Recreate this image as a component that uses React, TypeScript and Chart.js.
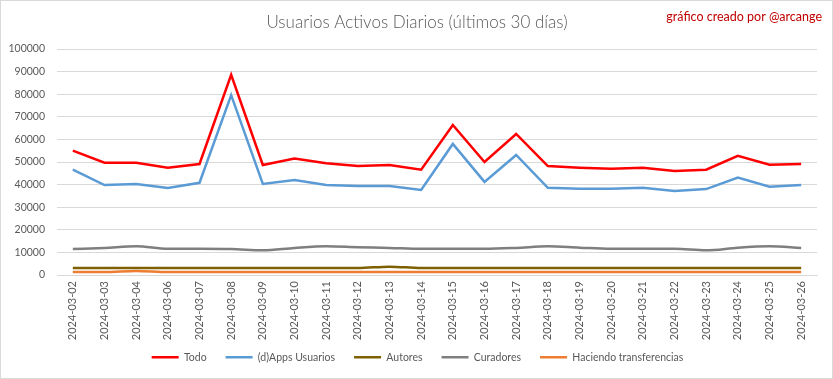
import React, { useEffect, useRef } from "react";
import { Chart, registerables } from "chart.js";

Chart.register(...registerables);

const dates = [
  "2024-03-02", "2024-03-03", "2024-03-04", "2024-03-06", "2024-03-07", "2024-03-08",
  "2024-03-09", "2024-03-10", "2024-03-11", "2024-03-12", "2024-03-13", "2024-03-14",
  "2024-03-15", "2024-03-16", "2024-03-17", "2024-03-18", "2024-03-19", "2024-03-20",
  "2024-03-21", "2024-03-22", "2024-03-23", "2024-03-24", "2024-03-25", "2024-03-26",
];

const todo = [
  55000, 49700, 49700, 47500, 49100, 88600, 48700, 51500, 49400, 48200, 48700, 46600,
  66400, 50000, 62400, 48200, 47500, 47000, 47500, 46000, 46600, 52700, 48800, 49100,
];

const appsUsuarios = [
  46600, 39800, 40300, 38500, 40800, 79600, 40300, 42000, 39800, 39400, 39400, 37600,
  58000, 41200, 53100, 38600, 38200, 38200, 38600, 37200, 38000, 43100, 39100, 39800,
];

const autores = [
  3100, 3100, 3100, 3100, 3100, 3100, 3100, 3100, 3100, 3100, 3700, 3100,
  3100, 3100, 3100, 3100, 3100, 3100, 3100, 3100, 3100, 3100, 3100, 3100,
];

const curadores = [
  11500, 12000, 12700, 11600, 11600, 11500, 10900, 12000, 12700, 12300, 12000, 11600,
  11600, 11600, 12000, 12700, 12100, 11600, 11600, 11600, 10900, 12100, 12700, 12000,
];

const transferencias = [
  1300, 1300, 1800, 1300, 1300, 1300, 1300, 1300, 1300, 1300, 1300, 1300,
  1300, 1300, 1300, 1300, 1300, 1300, 1300, 1300, 1300, 1300, 1300, 1300,
];

const seriesNames = ["Todo", "(d)Apps Usuarios", "Autores", "Curadores", "Haciendo transferencias"];
const seriesColors = ["#FF0000", "#5B9BD5", "#7F6000", "#7F7F7F", "#ED7D31"];

const titleText = "Usuarios Activos Diarios (últimos 30 días)";
const creditText = "gráfico creado por @arcange";

const FONT = "Lato, 'Open Sans', sans-serif";

const decorPlugin = {
  id: "decor",
  afterLayout(chart: any) {
    // let the rotated x labels extend below the axis box (avoid clipping)
    const x = chart.scales.x;
    if (x) x.bottom = chart.height;
    const lg = chart.legend;
    if (lg) {
      lg.left += 9;
      lg.right += 9;
    }
  },
  beforeDraw(chart: any) {
    const ctx = chart.ctx;
    ctx.save();
    ctx.fillStyle = "#FFFFFF";
    ctx.fillRect(0, 0, chart.width, chart.height);
    ctx.restore();
  },
  afterDraw(chart: any) {
    const ctx = chart.ctx;
    ctx.save();
    ctx.textBaseline = "middle";
    ctx.textAlign = "center";
    ctx.fillStyle = "#595959";
    ctx.font = `300 17px ${FONT}`;
    ctx.fillText(titleText, 417, 23);
    ctx.textAlign = "right";
    ctx.fillStyle = "#C00000";
    ctx.font = `12.5px ${FONT}`;
    ctx.fillText(creditText, 822, 17);
    ctx.strokeStyle = "#D9D9D9";
    ctx.lineWidth = 1;
    ctx.strokeRect(0.5, 0.5, chart.width - 1, chart.height - 1);
    ctx.restore();
  },
};

export default function App() {
  const ref = useRef<HTMLCanvasElement | null>(null);

  useEffect(() => {
    document.body.style.margin = "0";
    const seriesData = [todo, appsUsuarios, autores, curadores, transferencias];
    const tensions = [0, 0, 0.4, 0.4, 0.4];
    const chart = new Chart(ref.current as HTMLCanvasElement, {
      type: "line",
      data: {
        labels: dates,
        datasets: seriesNames.map((name, i) => ({
          label: name,
          data: seriesData[i],
          borderColor: seriesColors[i],
          backgroundColor: seriesColors[i],
          borderWidth: 2.5,
          pointRadius: 0,
          tension: tensions[i],
          cubicInterpolationMode: i >= 2 ? ("monotone" as const) : ("default" as const),
          fill: false,
        })),
      },
      options: {
        responsive: false,
        animation: false,
        layout: { padding: { top: 49, right: 16, left: 0, bottom: 6.5 } },
        scales: {
          x: {
            offset: true,
            grid: { display: false, drawTicks: false },
            border: { display: true, color: "#D9D9D9" },
            ticks: {
              minRotation: 90,
              maxRotation: 90,
              autoSkip: false,
              padding: 6,
              color: "#595959",
              font: { family: FONT, size: 11 },
            },
            afterFit: (scale: any) => {
              scale.height = 58;
            },
          },
          y: {
            min: 0,
            max: 100000,
            grid: { color: "#D9D9D9", drawTicks: false },
            border: { display: false },
            ticks: {
              stepSize: 10000,
              padding: 12,
              color: "#595959",
              font: { family: FONT, size: 10.5 },
              callback: (v: any) => String(v),
            },
            afterFit: (scale: any) => {
              scale.width = 57;
            },
          },
        },
        plugins: {
          legend: {
            position: "bottom",
            labels: {
              usePointStyle: true,
              pointStyle: "line",
              pointStyleWidth: 27,
              padding: 19,
              color: "#595959",
              font: { family: FONT, size: 10.5 },
            },
          },
          tooltip: { enabled: false },
          title: { display: false },
        },
      },
      plugins: [decorPlugin],
    });
    return () => chart.destroy();
  }, []);

  return (
    <div style={{ position: "absolute", left: 0, top: 0, width: 833, height: 379 }}>
      <canvas ref={ref} width={833} height={379} style={{ width: 833, height: 379, display: "block" }} />
    </div>
  );
}
